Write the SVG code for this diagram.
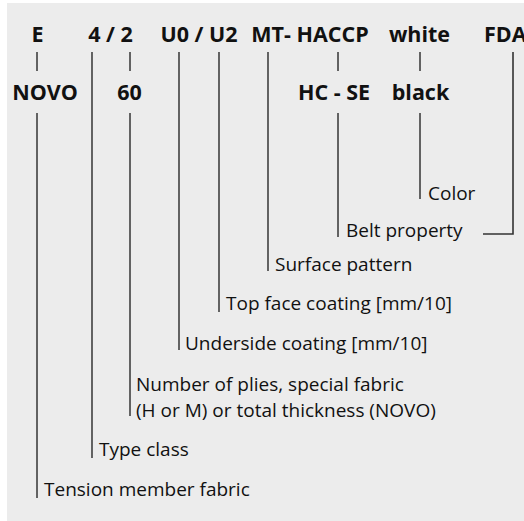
<svg xmlns="http://www.w3.org/2000/svg" width="524" height="521" viewBox="0 0 524 521">
<style>
.code{font-family:"Open Sans","Noto Sans",sans-serif;font-weight:bold;font-size:21.5px;fill:#111}
.lbl{font-family:"Open Sans","Noto Sans",sans-serif;font-size:19px;fill:#111}
.ln{stroke:#1a1a1a;stroke-width:1.3;fill:none}
</style>
<rect x="7" y="3" width="517" height="518" fill="#ececec"/>
<g id="codes">
<g id="code-E"><text class="code" x="37.5" y="41.5" text-anchor="middle">E</text></g>
<g id="code-42"><text class="code" x="110.5" y="41.5" text-anchor="middle">4 / 2</text></g>
<g id="code-U0U2"><text class="code" x="199" y="41.5" text-anchor="middle">U0 / U2</text></g>
<g id="code-MT"><text class="code" x="310" y="41.5" text-anchor="middle">MT- HACCP</text></g>
<g id="code-white"><text class="code" x="419.5" y="41.5" text-anchor="middle">white</text></g>
<g id="code-FDA"><text class="code" x="484" y="41.5">FDA</text></g>
<g id="code-NOVO"><text class="code" x="45" y="100" text-anchor="middle">NOVO</text></g>
<g id="code-60"><text class="code" x="129.5" y="100" text-anchor="middle">60</text></g>
<g id="code-HCSE"><text class="code" x="334" y="100" text-anchor="middle">HC - SE</text></g>
<g id="code-black"><text class="code" x="420.5" y="100" text-anchor="middle">black</text></g>
</g>
<g id="labels">
<g id="lbl-color"><text class="lbl" x="428" y="200">Color</text></g>
<g id="lbl-belt"><text class="lbl" x="346" y="237">Belt property</text></g>
<g id="lbl-surface"><text class="lbl" x="275" y="271">Surface pattern</text></g>
<g id="lbl-top"><text class="lbl" x="226" y="310">Top face coating [mm/10]</text></g>
<g id="lbl-under"><text class="lbl" x="185" y="350">Underside coating [mm/10]</text></g>
<g id="lbl-plies"><text class="lbl" x="136" y="391">Number of plies, special fabric</text><text class="lbl" x="136" y="417">(H or M) or total thickness (NOVO)</text></g>
<g id="lbl-type"><text class="lbl" x="99" y="456">Type class</text></g>
<g id="lbl-tension"><text class="lbl" x="44" y="496">Tension member fabric</text></g>
</g>
<g id="connectors" class="ln">
<path d="M37 52V71M37 113V498"/>
<path d="M92 52V458"/>
<path d="M130 52V71M130 113V416"/>
<path d="M179 52V350"/>
<path d="M219 52V312"/>
<path d="M268 52V271"/>
<path d="M338 52V71M338 113V237"/>
<path d="M420 52V71M420 113V199"/>
<path d="M513 52V234H483" stroke="#333" stroke-width="1.6"/>
</g>
</svg>
